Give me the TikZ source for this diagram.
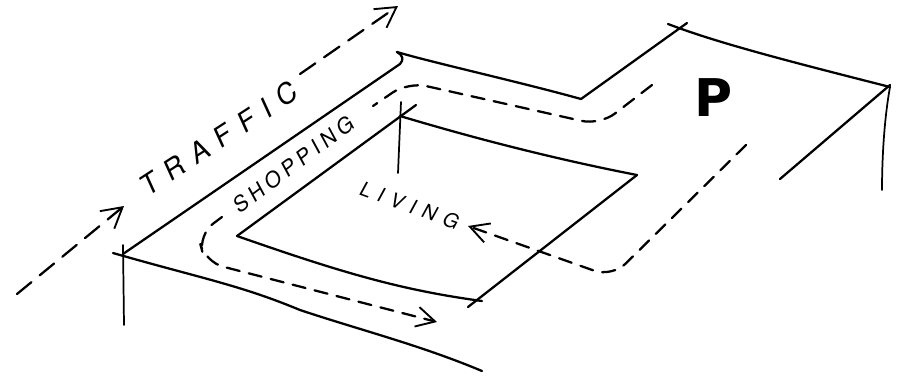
\documentclass[tikz,border=0pt]{standalone}
\usepackage{fontspec}
\usetikzlibrary{arrows.meta}
\newfontface\trafficfont[LetterSpace=38,FakeSlant=0.15]{TeX Gyre Heros}
\newfontface\shopfont[LetterSpace=22,FakeSlant=0.15]{TeX Gyre Heros}
\newfontface\parkfont{DejaVu Sans Bold}
\tikzset{
  sketch/.style={line width=1.7pt, line cap=round, line join=round},
  thinsketch/.style={line width=1.3pt, line cap=round},
  flow/.style={sketch, dash pattern=on 14pt off 8pt, ->, >={Straight Barb[length=15pt,width=17pt,line width=1.4pt]}},
  walk/.style={sketch, dash pattern=on 10pt off 7pt, rounded corners=14pt, ->, >={Straight Barb[length=14pt,width=15pt,line width=1.4pt]}},
  walkend/.style={sketch, dash pattern=on 10pt off 7pt, rounded corners=14pt},
  label/.style={inner sep=0pt}
}
\begin{document}
\begin{tikzpicture}[x=0.75pt, y=-0.75pt]
    \useasboundingbox (0,0) rectangle (900,376);

    % Outer edge of the road side and the parking notch
    \draw[sketch] (113,253) .. controls (200,278) and (240,285) .. (300,310)
        .. controls (360,330) and (420,345) .. (482,371);
    \draw[thinsketch] (123,245) -- (124,325);
    \draw[sketch] (123,254) -- (400,64) .. controls (404,60) and (403,55) .. (397,52);
    \draw[sketch] (397,52) .. controls (430,62) and (520,82) .. (581,99);
    \draw[sketch] (581,99) -- (687,23);
    \draw[sketch] (668,24) .. controls (720,44) and (800,64) .. (890,87);
    \draw[sketch] (890,85) -- (780,179);
    \draw[thinsketch] (890,87) .. controls (884,120) and (882,160) .. (882,190);

    % Inner block
    \draw[sketch] (237,236) -- (416,105);
    \draw[sketch] (237,236) .. controls (340,272) and (400,290) .. (482,301);
    \draw[sketch] (468,307) -- (637,175);
    \draw[sketch] (400,116) .. controls (480,140) and (560,160) .. (637,175);
    \draw[thinsketch] (401,102) -- (398,173);

    % Traffic arrows
    \draw[flow] (17,294) -- (124,206);
    \draw[flow] (300,74) -- (398,6);

    % Shopping route
    \draw[walkend] (652,85) -- (600,125) -- (408,82) -- (373,106);
    \draw[walk] (222,217) -- (198,235) -- (205,262) -- (437,322);

    % Route to the living area
    \draw[walk] (746,145) -- (612,277) -- (468,226);

    % Labels
    \node[label, rotate=33, font=\trafficfont\fontsize{21}{21}\selectfont] (traffic) at (218,139) {TRAFFIC};
    \node[label, rotate=37, font=\shopfont\fontsize{16}{16}\selectfont] (shopping) at (293,165) {SHOPPING};
    \node[label, rotate=-20, font=\trafficfont\fontsize{15}{15}\selectfont] (living) at (409,205) {LIVING};
    \node[label, font=\parkfont\fontsize{39}{39}\selectfont] (parking) at (714,98) {P};
\end{tikzpicture}
\end{document}
